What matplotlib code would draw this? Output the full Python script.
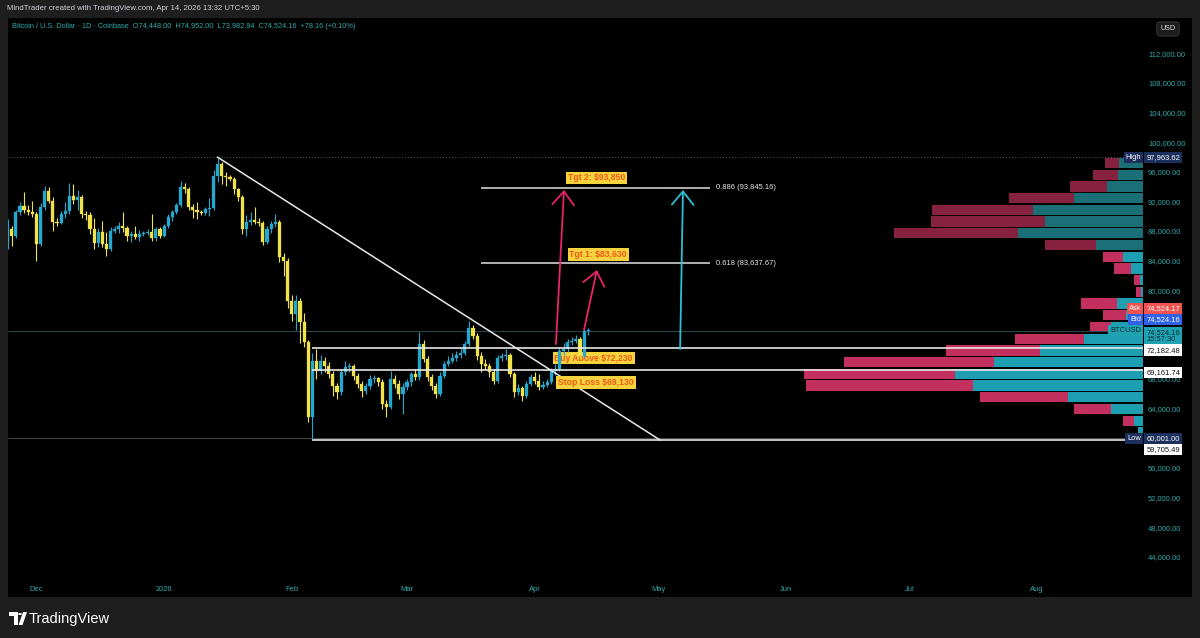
import datetime as dt
import numpy as np
import matplotlib
matplotlib.use("Agg")
import matplotlib.pyplot as plt
import matplotlib.dates as mdates
from matplotlib.patches import Rectangle, Polygon, Circle
from matplotlib.transforms import blended_transform_factory

# ---------------- data ----------------
symbol_title = "Bitcoin / U.S. Dollar · 1D · Coinbase"
start_date = dt.date(2025, 11, 24)
first_open = 86680
closes = [
    88255, 87265, 90505, 91315, 90865, 90595, 90280, 86230, 91180, 93430,
    92080, 89245, 89100, 90280, 90730, 92755, 92215, 92530, 90280, 90145,
    88255, 86365, 87805, 86230, 85555, 88030, 88255, 88615, 88435, 87355,
    87580, 87130, 87580, 87715, 87850, 86995, 88255, 87355, 88615, 89830,
    90505, 91495, 93880, 93655, 91180, 90865, 90505, 90415, 90955, 91135,
    95365, 97030, 95455, 95320, 95005, 93655, 92530, 88255, 89245, 89515,
    89245, 89065, 86455, 88255, 88930, 89245, 84430, 83980, 78580, 76800,
    78600, 75650, 73050, 62830, 70480, 69130, 70480, 69805, 68680, 67105,
    66205, 68905, 69580, 69800, 68455, 67330, 66430, 67015, 68005, 68095,
    67555, 64630, 64180, 68005, 67330, 65980, 66880, 67555, 68680, 68230,
    72730, 70705, 68230, 67105, 65980, 68455, 70030, 70480, 70795, 71245,
    71515, 72730, 74845, 73855, 71155, 70030, 69805, 68905, 67780, 70795,
    71065, 71245, 68680, 66205, 66745, 65755, 67330, 68230, 67780, 66880,
    67195, 67555, 69130, 69355, 71830, 72100, 72955, 73180, 73400, 71155,
    74448, 74524.16,
]
highs = [
    89600, 88700, 90800, 91900, 93200, 91500, 92100, 90500, 91800, 94100,
    94000, 92600, 89800, 90700, 91900, 94500, 94400, 93500, 92800, 90700,
    90500, 89800, 88400, 89400, 87900, 88600, 88700, 89200, 90500, 88700,
    88000, 88700, 88100, 88000, 88200, 90300, 88600, 88600, 88900, 90300,
    90900, 91800, 94800, 94500, 94000, 91700, 91900, 90800, 91300, 92400,
    96200, 97963.62, 97300, 95900, 95600, 95300, 93800, 92800, 90100, 90500,
    91200, 89800, 89300, 88700, 89400, 90300, 89500, 85000, 84300, 79300,
    79300, 79000, 76900, 73300, 71500, 72055, 71200, 71000, 70300, 69100,
    67400, 69300, 70500, 70200, 70000, 68800, 67700, 67400, 68500, 68500,
    68300, 68000, 65200, 69100, 68500, 67900, 67500, 68000, 69000, 69400,
    74305, 73300, 71100, 68700, 67400, 68900, 70500, 71100, 71500, 71800,
    72200, 73200, 75880, 75300, 74200, 71600, 70700, 70200, 69300, 71300,
    71500, 72055, 71500, 69000, 67300, 67000, 67800, 68700, 68900, 68700,
    67700, 68000, 69500, 70000, 72300, 72800, 73400, 73700, 73900, 73700,
    74900, 74952.00,
]
lows = [
    85600, 86000, 87000, 90200, 90400, 90100, 89900, 83980, 86000, 90900,
    91800, 88000, 88700, 88900, 89800, 90300, 91700, 90800, 89800, 89500,
    87600, 85550, 85800, 85900, 84650, 85300, 87700, 87700, 87900, 86700,
    86500, 86900, 86700, 87300, 87400, 86700, 86600, 87000, 87200, 88400,
    89400, 90300, 91300, 93100, 90900, 89700, 89600, 90100, 90200, 90000,
    90900, 94600, 94300, 94100, 94700, 93000, 92100, 87600, 87300, 88800,
    88900, 88700, 86100, 86200, 87700, 88600, 83800, 81900, 77600, 75800,
    74600, 72900, 72300, 62200, 60001.00, 68005, 68700, 68900, 68100, 65755,
    65305, 65900, 68500, 68900, 67900, 66800, 65600, 66000, 66700, 67500,
    67100, 63955, 62830, 63900, 66800, 65300, 63280, 66500, 67000, 67900,
    67900, 70300, 67800, 66500, 65500, 65700, 68200, 69700, 70100, 70400,
    70900, 71200, 72400, 73400, 70600, 68900, 69300, 68300, 67300, 67500,
    70500, 70600, 68300, 65530, 65900, 65080, 65500, 67000, 67300, 66500,
    66600, 66900, 67300, 68600, 69100, 71200, 71700, 72600, 72800, 70800,
    70900, 73982.94,
]
ohlc_header = "O74,448.00  H74,952.00  L73,982.94  C74,524.16  +78.16 (+0.10%)"

# volume profile rows, listed from the top row (near the high) down to the low row
vp_high, vp_low = 97963.62, 60001.00
vp_up = [24, 25, 36, 69, 110, 98, 125, 47, 20, 12, 3, 2,
         26, 17, 32, 59, 103, 149, 188, 170, 75, 32, 9, 5]
vp_down = [14, 25, 37, 65, 101, 114, 124, 51, 20, 17, 6, 5,
           36, 23, 21, 69, 94, 150, 151, 167, 88, 37, 11, 0]
value_area_high = 85500

# drawn levels
fib_levels = [0.886, 0.618]
fib_prices = [93845.16, 83637.67]
hline_prices = [72182.48, 69161.74, 59705.49]
last_price = 74524.16
bid_price, ask_price = 74524.16, 74524.17
countdown = "15:57:30"
trend_start = (dt.datetime(2026, 1, 14), 97963.62)
trend_end = (dt.datetime(2026, 5, 1, 10), 59764)
tgt2, tgt1, buy_above, stop_loss = 93850, 83630, 72230, 69130
price_ticks = [44000, 48000, 52000, 56000, 64000, 68000, 80000, 84000,
               88000, 92000, 96000, 100000, 104000, 108000, 112000]
month_ticks = [dt.date(2025, 12, 1), dt.date(2026, 1, 1), dt.date(2026, 2, 1),
               dt.date(2026, 3, 1), dt.date(2026, 4, 1), dt.date(2026, 5, 1),
               dt.date(2026, 6, 1), dt.date(2026, 7, 1), dt.date(2026, 8, 1)]
month_labels = ["Dec", "2026", "Feb", "Mar", "Apr", "May", "Jun", "Jul", "Aug"]

# ---------------- style ----------------
W, H = 1200, 638
FONT = "Liberation Sans"
UP, DOWN = "#24a8d0", "#f2e24a"
TEAL_TXT = "#2fa9ab"
plt.rcParams["font.family"] = [FONT, "DejaVu Sans"]

fig = plt.figure(figsize=(W / 100, H / 100), dpi=100, facecolor="#1e1e1e")
fig.patches.append(Rectangle((8 / W, 1 - 597 / H), 1184 / W, 579 / H,
                             transform=fig.transFigure, fc="#000000", ec="none", zorder=-10))

ax = fig.add_axes([8 / W, 1 - 580 / H, 1135 / W, 562 / H])
vp = ax.twiny()
ax.set_zorder(2)
ax.patch.set_visible(False)
vp.set_zorder(1)

jan1 = mdates.date2num(dt.datetime(2026, 1, 1))
xmin, xmax = jan1 - 37.9, jan1 + 237.7
ax.set_xlim(xmin, xmax)
ax.set_ylim(40853, 116768)

for a in (ax, vp):
    for s in a.spines.values():
        s.set_visible(False)

# ---------------- candles ----------------
dates = [start_date + dt.timedelta(days=i) for i in range(len(closes))]
x = mdates.date2num(dates)
c = np.array(closes, dtype=float)
o = np.concatenate([[first_open], c[:-1]])
hi = np.array(highs, dtype=float)
lo = np.array(lows, dtype=float)
cols = np.where(c >= o, UP, DOWN)
ax.vlines(x, lo, hi, colors=cols, lw=0.8, zorder=5)
ax.bar(x, np.maximum(np.abs(c - o), 130), bottom=np.minimum(o, c), width=0.76,
       color=cols, edgecolor=cols, linewidth=0.2, zorder=6)

# ---------------- reference lines ----------------
ax.hlines(vp_high, xmin, xmax, colors="#5a5a5a", lw=0.7, linestyles=(0, (1, 2)), zorder=2)
ax.hlines(vp_low, xmin, xmax, colors="#4a4a4a", lw=0.7, zorder=2)
ax.hlines(last_price, xmin, xmax, colors="#2c4a4e", lw=0.7, zorder=2)

feb6 = mdates.date2num(dt.datetime(2026, 2, 6))
for p in hline_prices:
    ax.hlines(p, feb6, xmax, colors="#e6e6e6", lw=1.2, zorder=7)

fib_x0 = jan1 + 77.0
fib_x1 = jan1 + 132.6
for lvl, p in zip(fib_levels, fib_prices):
    ax.hlines(p, fib_x0, fib_x1, colors="#cfcfcf", lw=1.2, zorder=7)
    ax.text(jan1 + 134.0, p, f"{lvl:.3f} ({p:,.2f})", color="#e8e8e8", fontsize=5.4,
            va="center", ha="left", zorder=8)

ax.plot([mdates.date2num(trend_start[0]), mdates.date2num(trend_end[0])],
        [trend_start[1], trend_end[1]], color="#e8e8e8", lw=1.1, zorder=7)

# ---------------- annotations ----------------
lab_kw = dict(fontsize=6.2, fontweight="bold", color="#ee5a1c", ha="center", va="center",
              bbox=dict(boxstyle="square,pad=0.22", fc="#f5d33c", ec="none"))
ax.annotate(f"Tgt 2: ${tgt2:,}", xy=(jan1 + 105.0, fib_prices[0]), xytext=(0, 7.0),
            textcoords="offset points", zorder=9, **lab_kw)
ax.annotate(f"Tgt 1: ${tgt1:,}", xy=(jan1 + 105.4, fib_prices[1]), xytext=(0, 6.4),
            textcoords="offset points", zorder=9, **lab_kw)
ax.annotate(f"Buy Above ${buy_above:,}", xy=(jan1 + 104.3, hline_prices[0]), xytext=(0, -7.2),
            textcoords="offset points", zorder=4, **lab_kw)
ax.annotate(f"Stop Loss ${stop_loss:,}", xy=(jan1 + 104.9, hline_prices[1]), xytext=(0, -8.7),
            textcoords="offset points", zorder=9, **lab_kw)

arrows = [
    ((jan1 + 95.15, 72731), (jan1 + 97.1, 93534), "#e8246a"),
    ((jan1 + 101.96, 74623), (jan1 + 105.1, 82728), "#e8246a"),
    ((jan1 + 125.3, 72056), (jan1 + 126.0, 93534), "#2bc0d6"),
]
for tail, head, col in arrows:
    ax.annotate("", xy=head, xytext=tail, zorder=9,
                arrowprops=dict(arrowstyle="->,head_length=0.8,head_width=0.65", color=col,
                                lw=1.3, shrinkA=0, shrinkB=0, mutation_scale=12))

# ---------------- volume profile ----------------
n_rows = len(vp_up)
row_h = (vp_high - vp_low) / n_rows
centers = np.array([vp_high - (i + 0.5) * row_h for i in range(n_rows)])
up_v = np.array(vp_up, dtype=float)
dn_v = np.array(vp_down, dtype=float)
inside = centers < value_area_high
up_c = np.where(inside, "#1e9fb1", "#1b6f76")
dn_c = np.where(inside, "#c3305f", "#86223f")
vp.barh(centers, up_v, left=0, height=row_h * 0.88, color=up_c, linewidth=0)
vp.barh(centers, dn_v, left=up_v, height=row_h * 0.88, color=dn_c, linewidth=0)
vp.set_xlim((up_v + dn_v).max() / 0.2987, 0)
vp.xaxis.set_visible(False)

# ---------------- axes ticks ----------------
ax.yaxis.tick_right()
ax.set_yticks(price_ticks)
ax.set_yticklabels([f"{t:,.2f}" for t in price_ticks])
ax.tick_params(axis="y", length=0, pad=3.6, labelsize=5.4, labelcolor=TEAL_TXT)
ax.set_xticks(mdates.date2num(month_ticks))
ax.set_xticklabels(month_labels)
ax.tick_params(axis="x", length=0, pad=4.0, labelsize=5.4, labelcolor=TEAL_TXT)

# ---------------- price-scale tags ----------------
tr = blended_transform_factory(ax.transAxes, ax.transData)


def tag(price, dy_px, text, fc, tc, left_side, fs=5.4):
    ax.annotate(text, xy=(1.0, price), xycoords=tr,
                xytext=(-1.2 if left_side else 2.4, -dy_px * 0.72), textcoords="offset points",
                ha="right" if left_side else "left", va="center", fontsize=fs, color=tc,
                annotation_clip=False, zorder=12, linespacing=1.0,
                bbox=dict(boxstyle="square,pad=0.28", fc=fc, ec="none"))


NAVY = "#1d2f5c"
tag(vp_high, 0, "High", NAVY, "#ffffff", True)
tag(vp_high, 0, f"{vp_high:,.2f}", NAVY, "#ffffff", False)
tag(ask_price, -22, "Ask", "#ef5350", "#ffffff", True)
tag(ask_price, -22, f"{ask_price:,.2f}", "#ef5350", "#ffffff", False)
tag(bid_price, -11, "Bid", "#2f62e6", "#ffffff", True)
tag(bid_price, -11, f"{bid_price:,.2f}", "#2f62e6", "#ffffff", False)
tag(last_price, 0, "BTCUSD", "#1fa3b3", "#0b2a30", True)
tag(last_price, 5, f"{last_price:,.2f}\n{countdown}", "#1fa3b3", "#0b2a30", False)
for p in hline_prices[:2]:
    tag(p, 2, f"{p:,.2f}", "#ffffff", "#111111", False)
tag(vp_low, 0, "Low", NAVY, "#ffffff", True)
tag(vp_low, 0, f"{vp_low:,.2f}", NAVY, "#ffffff", False)
tag(hline_prices[2], 9, f"{hline_prices[2]:,.2f}", "#ffffff", "#111111", False)

# ---------------- header / footer ----------------
fig.text(7 / W, 1 - 9 / H, "MindTrader created with TradingView.com, Apr 14, 2026 13:32 UTC+5:30",
         fontsize=5.6, color="#d1d4dc", va="center", ha="left")
fig.text(12 / W, 1 - 27 / H, f"{symbol_title}  {ohlc_header}",
         fontsize=5.3, color=TEAL_TXT, va="center", ha="left")
fig.text(1168 / W, 1 - 29 / H, "USD", fontsize=5.2, color="#e0e0e0", va="center", ha="center",
         bbox=dict(boxstyle="round,pad=0.5,rounding_size=0.4", fc="#1c1c1c", ec="#3a3a3a", lw=0.6))

# TradingView logo
def fpx(px, py):
    return (px / W, 1 - py / H)

logo_kw = dict(transform=fig.transFigure, fc="#ffffff", ec="none")
fig.patches.append(Polygon([fpx(9, 612), fpx(17.5, 612), fpx(17.5, 625), fpx(13.5, 625),
                            fpx(13.5, 616), fpx(9, 616)], **logo_kw))
fig.patches.append(Circle(fpx(20.0, 614.0), 1.9 / W, **logo_kw))
fig.patches.append(Polygon([fpx(23, 612), fpx(27, 612), fpx(22.5, 625), fpx(18.5, 625)], **logo_kw))
fig.text(29 / W, 1 - 619 / H, "TradingView", fontsize=10.5, color="#ffffff",
         va="center", ha="left")

fig.savefig("out.png", dpi=100, facecolor=fig.get_facecolor())
